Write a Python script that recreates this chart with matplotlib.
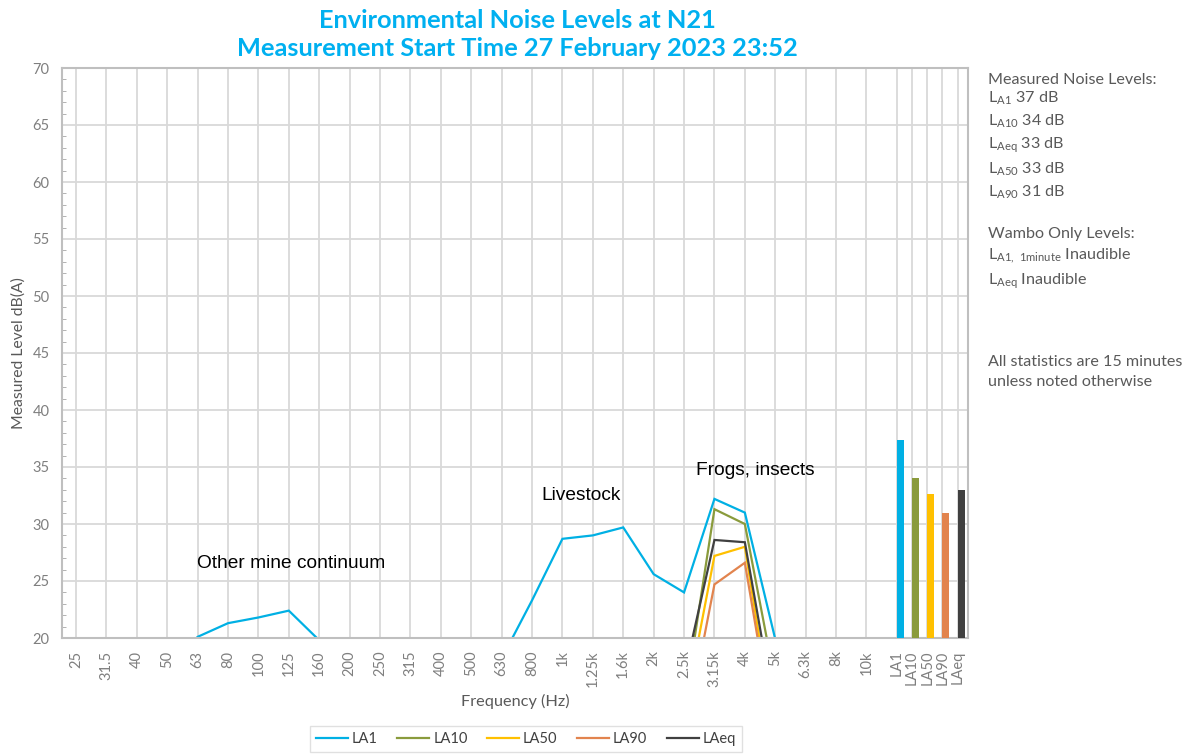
import numpy as np
import matplotlib
matplotlib.use('Agg')
import matplotlib.pyplot as plt

plt.rcParams['font.family'] = ['Lato', 'DejaVu Sans']

# one-third octave bands (Hz)
freqs = ['25', '31.5', '40', '50', '63', '80', '100', '125', '160', '200', '250',
         '315', '400', '500', '630', '800', '1k', '1.25k', '1.6k', '2k', '2.5k',
         '3.15k', '4k', '5k', '6.3k', '8k', '10k']
nan = np.nan
# only the values that reach the 20-70 dB window (plus the band each side) are known
la1 = [nan, nan, nan, 17.0, 20.1, 21.3, 21.8, 22.4, 19.8, nan, nan,
       nan, nan, nan, 18.2, 23.3, 28.7, 29.0, 29.7, 25.6, 24.0,
       32.2, 31.0, 19.9, nan, nan, nan]
la10 = [nan] * 20 + [14.0, 31.3, 30.0, 16.1, nan, nan, nan]
la50 = [nan] * 20 + [13.3, 27.2, 28.0, 11.2, nan, nan, nan]
la90 = [nan] * 20 + [11.0, 24.7, 26.6, 10.9, nan, nan, nan]
laeq = [nan] * 20 + [16.7, 28.6, 28.4, 13.3, nan, nan, nan]

# overall statistics (bars)
stat_names = ['LA1', 'LA10', 'LA50', 'LA90', 'LAeq']
stat_values = [37.4, 34.0, 32.6, 31.0, 33.0]

colors = ['#00B0E4', '#8A9B3C', '#FFC000', '#E2844E', '#404040']
series = [la1, la10, la50, la90, laeq]

fig = plt.figure(figsize=(11.92, 7.54), dpi=100)
ax = fig.add_axes([62 / 1192, 1 - 638 / 754, (968 - 62) / 1192, (638 - 68) / 754])

x_freq = np.arange(len(freqs))
x_stat = len(freqs) + 0.5 * np.arange(len(stat_names))

for name, vals, c in zip(stat_names, series, colors):
    ax.plot(x_freq, vals, color=c, lw=1.6, label=name, solid_joinstyle='miter')

ax.bar(x_stat, np.array(stat_values) - 20, bottom=20, width=0.23, align='edge',
       color=colors, zorder=3)

ax.set_xlim(-0.46, 29.34)
ax.set_ylim(20, 70)
ax.set_yticks(np.arange(20, 71, 5))
ax.set_yticks(np.arange(20, 71, 1), minor=True)
ax.set_xticks(np.concatenate([x_freq, x_stat]))
ax.set_xticklabels(freqs + stat_names, rotation=90, va='top')
ax.tick_params(axis='x', length=0, pad=9, labelsize=10.5, labelcolor='#7F7F7F')
ax.tick_params(axis='y', which='major', length=0, pad=9, labelsize=10.5, labelcolor='#7F7F7F')
ax.tick_params(axis='y', which='minor', direction='in', length=3, color='#A6A6A6')
ax.grid(True, which='major', color='#D9D9D9', lw=1.3)
ax.set_axisbelow(True)
for s in ax.spines.values():
    s.set_color('#BFBFBF')
    s.set_linewidth(1.5)

ax.set_xlabel('Frequency (Hz)', fontsize=11.7, color='#595959', labelpad=5)
ax.set_ylabel('Measured Level dB(A)', fontsize=11.3, color='#595959', labelpad=5)

# source annotations
ann = dict(fontsize=13.8, family='Liberation Sans', color='black', va='center')
ax.text(3.98, 26.5, 'Other mine continuum', **ann)
ax.text(15.32, 32.5, 'Livestock', **ann)
ax.text(20.4, 34.65, 'Frogs, insects', **ann)

title_c = '#00B0F0'
fig.text(517 / 1192, 1 - 28 / 754, 'Environmental Noise Levels at N21', ha='center',
         va='baseline', fontsize=18.3, fontweight='bold', color=title_c)
fig.text(517 / 1192, 1 - 56 / 754, 'Measurement Start Time 27 February 2023 23:52',
         ha='center', va='baseline', fontsize=18.3, fontweight='bold', color=title_c)

# side notes
side = [
    ('Measured Noise Levels:', 84),
    (r'L$_{\mathregular{A1}}$ 37 dB', 102),
    (r'L$_{\mathregular{A10}}$ 34 dB', 125.5),
    (r'L$_{\mathregular{Aeq}}$ 33 dB', 148),
    (r'L$_{\mathregular{A50}}$ 33 dB', 173),
    (r'L$_{\mathregular{A90}}$ 31 dB', 196.5),
    ('Wambo Only Levels:', 238),
    (r'L$_{\mathregular{A1,\ 1minute}}$ Inaudible', 259),
    (r'L$_{\mathregular{Aeq}}$ Inaudible', 284),
    ('All statistics are 15 minutes', 366.5),
    ('unless noted otherwise', 386.5),
]
for txt, yb in side:
    fig.text(988 / 1192, 1 - yb / 754, txt, ha='left', va='baseline',
             fontsize=11.6, color='#595959')

leg = fig.legend(loc='center', bbox_to_anchor=(526 / 1192, 1 - 739 / 754), ncol=5,
                 fontsize=10.5, frameon=True, fancybox=False, edgecolor='#D9D9D9',
                 handlelength=2.2, handletextpad=0.25, columnspacing=1.35,
                 borderpad=0.4)
leg.get_frame().set_linewidth(1.0)
for t in leg.get_texts():
    t.set_color('#404040')

fig.savefig('out.png', dpi=100)
